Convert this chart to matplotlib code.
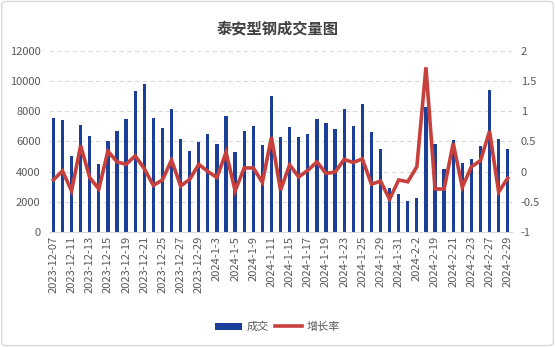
import matplotlib
matplotlib.use("Agg")
import matplotlib.pyplot as plt
import numpy as np
from matplotlib.patches import FancyBboxPatch
from matplotlib.ticker import FuncFormatter

plt.rcParams['font.family'] = ['Noto Sans CJK SC', 'DejaVu Sans']
plt.rcParams['axes.unicode_minus'] = False

dates = ["2023-12-07", "2023-12-08", "2023-12-11", "2023-12-12", "2023-12-13",
         "2023-12-14", "2023-12-15", "2023-12-18", "2023-12-19", "2023-12-20",
         "2023-12-21", "2023-12-22", "2023-12-25", "2023-12-26", "2023-12-27",
         "2023-12-28", "2023-12-29",
         "2024-1-2", "2024-1-3", "2024-1-4", "2024-1-5", "2024-1-8", "2024-1-9",
         "2024-1-10", "2024-1-11", "2024-1-12", "2024-1-15", "2024-1-16",
         "2024-1-17", "2024-1-18", "2024-1-19", "2024-1-22", "2024-1-23",
         "2024-1-24", "2024-1-25", "2024-1-26", "2024-1-29", "2024-1-30",
         "2024-1-31",
         "2024-2-1", "2024-2-2", "2024-2-18", "2024-2-19", "2024-2-20",
         "2024-2-21", "2024-2-22", "2024-2-23", "2024-2-26", "2024-2-27",
         "2024-2-28", "2024-2-29"]

volume = [7575, 7420, 5050, 7090, 6380, 4520, 6020, 6710, 7510, 9370,
          9810, 7580, 6910, 8170, 6160, 5360, 5960, 6490, 5850, 7710,
          5290, 6690, 7020, 5760, 9010, 6290, 6960, 6290, 6490, 7490,
          7220, 6820, 8150, 7020, 8480, 6620, 5490, 2900, 2500, 2040,
          2240, 8310, 5850, 4160, 6090, 4590, 4830, 5710, 9440, 6160,
          5520]

growth = [-0.14, 0.01, -0.32, 0.43, -0.10, -0.29, 0.34, 0.16, 0.12, 0.26,
          0.05, -0.23, -0.14, 0.19, -0.24, -0.13, 0.12, 0.00, -0.10, 0.32,
          -0.32, 0.06, 0.06, -0.18, 0.57, -0.31, 0.11, -0.09, 0.02, 0.16,
          -0.03, -0.01, 0.20, 0.15, 0.21, -0.21, -0.16, -0.46, -0.14, -0.17,
          0.08, 1.73, -0.29, -0.29, 0.47, -0.26, 0.08, 0.18, 0.67, -0.34,
          -0.11]

x = np.arange(len(dates))
txt = '#595959'

fig = plt.figure(figsize=(5.55, 3.47), dpi=100)
fig.patches.append(FancyBboxPatch((0.003, 0.004), 0.994, 0.992,
                                  boxstyle="round,pad=0,rounding_size=0.01",
                                  transform=fig.transFigure, fill=False,
                                  edgecolor='#d9d9d9', linewidth=1))
ax = fig.add_axes([0.088, 0.332, 0.835, 0.521])
ax2 = ax.twinx()

bars = ax.bar(x, volume, width=0.36, color='#1b3f99', label='成交', zorder=2)
line, = ax2.plot(x, growth, color='#c8403c', linewidth=2.6, label='增长率',
                 solid_joinstyle='miter', zorder=3)

ax.set_xlim(-0.5, len(dates) - 0.5)
ax.set_ylim(0, 12000)
ax.set_yticks(np.arange(0, 12001, 2000))
ax2.set_ylim(-1, 2)
ax2.set_yticks(np.arange(-1, 2.01, 0.5))
ax2.yaxis.set_major_formatter(FuncFormatter(lambda v, p: '{:g}'.format(v)))

ax.set_xticks(x[::2])
ax.set_xticklabels(dates[::2], rotation=90, fontsize=8, color=txt)
ax.grid(axis='y', color='#d9d9d9', linestyle=(0, (4, 3)), linewidth=0.8, zorder=0)
ax.set_axisbelow(True)

for a in (ax, ax2):
    for s in ('top', 'left', 'right'):
        a.spines[s].set_visible(False)
    a.spines['bottom'].set_color('#d9d9d9')
    a.tick_params(length=0, labelsize=8, labelcolor=txt)
ax2.spines['bottom'].set_visible(False)
ax.tick_params(axis='y', pad=6)
ax2.tick_params(axis='y', pad=6)
ax.tick_params(axis='x', pad=3, labelsize=8)

fig.text(0.5, 0.918, '泰安型钢成交量图', ha='center', va='center',
         fontsize=11, fontweight='bold', color='#404040')

fig.legend([bars, line], ['成交', '增长率'], loc='center', ncol=2,
           bbox_to_anchor=(0.5, 0.058), frameon=False, fontsize=8,
           labelcolor=txt, handlelength=2.5, handleheight=0.6,
           columnspacing=0.5, handletextpad=0.4)

fig.savefig('out.png', dpi=100)
